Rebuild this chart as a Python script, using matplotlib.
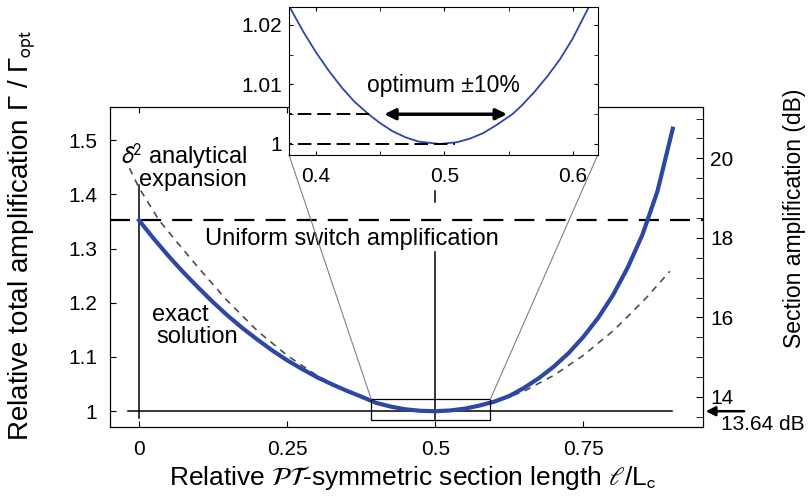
import numpy as np
import matplotlib.pyplot as plt
from matplotlib.patches import Rectangle, ConnectionPatch

plt.rcParams['font.family'] = ['Liberation Sans', 'DejaVu Sans']
plt.rcParams['mathtext.fontset'] = 'stixsans'

# exact solution (blue, thick)
x_exact = [0.0, 0.025, 0.05, 0.075, 0.1, 0.125, 0.15, 0.175, 0.2, 0.225, 0.25, 0.275,
           0.3, 0.325, 0.35, 0.375, 0.4, 0.425, 0.45, 0.475, 0.5, 0.525, 0.55, 0.575,
           0.6, 0.625, 0.65, 0.675, 0.7, 0.725, 0.75, 0.775, 0.8, 0.825, 0.85, 0.875, 0.901]
g_exact = [1.352, 1.318, 1.286, 1.256, 1.228, 1.201, 1.176, 1.153, 1.132, 1.112, 1.094, 1.078,
           1.063, 1.05, 1.038, 1.027, 1.0155, 1.0085, 1.0035, 1.0008, 1.0, 1.0014, 1.0047, 1.0105,
           1.0178, 1.028, 1.043, 1.061, 1.082, 1.107, 1.137, 1.172, 1.214, 1.265, 1.326, 1.405, 1.521]

# delta^2 analytical expansion (grey dashed)
x_expan = [-0.016, 0.0, 0.034, 0.067, 0.1, 0.148, 0.2, 0.25, 0.3, 0.35, 0.4, 0.45, 0.5,
           0.55, 0.6, 0.65, 0.7, 0.75, 0.8, 0.829, 0.857, 0.896]
g_expan = [1.448, 1.412, 1.352, 1.308, 1.265, 1.205, 1.148, 1.103, 1.066, 1.037, 1.016, 1.004, 1.0,
           1.004, 1.016, 1.037, 1.066, 1.103, 1.148, 1.179, 1.21, 1.258]

# inset (zoom around the optimum)
x_zoom = [0.379, 0.39, 0.40, 0.41, 0.42, 0.43, 0.441, 0.45, 0.46, 0.47, 0.48, 0.4965,
          0.51, 0.52, 0.53, 0.54, 0.553, 0.56, 0.57, 0.58, 0.59, 0.60, 0.613]
g_zoom = [1.0232, 1.0189, 1.0154, 1.0123, 1.0095, 1.0071, 1.0050, 1.0035, 1.0021, 1.0011, 1.0004, 1.0,
          1.0003, 1.0009, 1.0018, 1.0031, 1.0050, 1.0064, 1.0087, 1.0113, 1.0142, 1.0177, 1.0232]

g_uniform = 1.352
db_opt = 13.64
x_ticks = [0, 0.25, 0.5, 0.75]
x_labels = ['0', '0.25', '0.5', '0.75']
y_ticks = [1, 1.1, 1.2, 1.3, 1.4, 1.5]
y_labels = ['1', '1.1', '1.2', '1.3', '1.4', '1.5']
db_major = [14, 16, 18, 20]
db_minor = [13.5, 14.5, 15, 15.5, 16.5, 17, 17.5, 18.5, 19, 19.5, 20.5, 21]
zx_ticks = [0.4, 0.5, 0.6]
zx_minor = [0.45, 0.55]
zy_ticks = [1, 1.01, 1.02]
zy_minor = [1.005, 1.015]

box_x = [0.392, 0.593]
box_y = [0.983, 1.022]
blue = '#2c47a6'

fig = plt.figure(figsize=(8.11, 4.99), dpi=100)
ax = fig.add_axes([0.1356, 0.1433, 0.7312, 0.6423])
ax.set_xlim(-0.049, 0.952)
ax.set_ylim(0.970, 1.561)

ax.plot(x_expan, g_expan, color='#4d4d4d', lw=1.2, dashes=(4, 3.5), zorder=3)
ax.plot(x_exact, g_exact, color=blue, lw=3, zorder=4)
ax.axhline(g_uniform, color='k', lw=1.6, dashes=(9, 5), zorder=2)
ax.plot([-0.019, 0.899], [1, 1], color='k', lw=1.1, zorder=2)
ax.plot([0, 0], [0.987, 1.417], color='k', lw=1.1, zorder=2)
ax.plot([0.5, 0.5], [0.985, 1.294], color='k', lw=1.1, zorder=2)
ax.plot([0.5, 0.5], [1.385, 1.407], color='k', lw=1.1, zorder=2)
ax.add_patch(Rectangle((box_x[0], box_y[0]), box_x[1] - box_x[0], box_y[1] - box_y[0],
                       fill=False, lw=0.9, ec='k', zorder=5))

ax.set_xticks(x_ticks)
ax.set_xticklabels(x_labels, fontsize=15)
ax.set_yticks(y_ticks)
ax.set_yticklabels(y_labels, fontsize=15)
ax.tick_params(direction='in', length=4, top=True, right=False, pad=9)

ax2 = ax.twinx()
ax2.set_ylim(db_opt * 0.970, db_opt * 1.561)
ax2.set_yticks(db_major)
ax2.set_yticks(db_minor, minor=True)
ax2.set_yticklabels([str(v) for v in db_major], fontsize=15)
ax2.tick_params(which='both', direction='in', length=5, pad=5)

ax.text(0.182, 1.452, r'$\delta^2$ analytical' + '\nexpansion', fontsize=17, ha='right',
        va='center', multialignment='right', linespacing=0.85)
ax.text(0.36, 1.317, 'Uniform switch amplification', fontsize=17, ha='center', va='center')
ax.text(0.069, 1.177, 'exact', fontsize=17, ha='center', va='center')
ax.text(0.098, 1.137, 'solution', fontsize=17, ha='center', va='center')

ax2.annotate('', xy=(1.0, db_opt), xycoords=('axes fraction', 'data'),
             xytext=(1.074, db_opt), textcoords=('axes fraction', 'data'),
             arrowprops=dict(arrowstyle='-|>', color='k', lw=1.8, mutation_scale=14),
             annotation_clip=False)
ax2.text(1.031, db_opt - 0.34, '13.64 dB', transform=ax2.get_yaxis_transform(),
         fontsize=15, ha='left', va='center')

fig.text(0.028, 0.529, r'Relative total amplification Γ / Γ$_{\rm opt}$', rotation=90,
         fontsize=20, ha='center', va='center')
fig.text(0.980, 0.563, 'Section amplification (dB)', rotation=90,
         fontsize=16.5, ha='center', va='center')
fig.text(0.509, 0.042, r'Relative $\mathcal{PT}$-symmetric section length $\ell$/L$_{\rm c}$',
         fontsize=19, ha='center', va='center')

# inset
axin = fig.add_axes([0.3564, 0.6894, 0.3806, 0.296], zorder=10)
axin.set_xlim(0.379, 0.6195)
axin.set_ylim(0.99815, 1.02297)
axin.plot(x_zoom, g_zoom, color=blue, lw=1.3)
axin.plot([0.379, 0.441], [1.005, 1.005], color='k', lw=1.4,
          dashes=[1.5, 3] + [7, 3] * 8)
axin.plot([0.379, 0.508], [1.0, 1.0], color='k', lw=1.4,
          dashes=[1.5, 3] + [7, 3] * 12)
axin.annotate('', xy=(0.451, 1.005), xytext=(0.551, 1.005),
              arrowprops=dict(arrowstyle='<|-|>', color='k', lw=2.5, mutation_scale=16))
axin.text(0.4992, 1.0099, 'optimum ±10%', fontsize=16.5, ha='center', va='center')
axin.set_xticks(zx_ticks)
axin.set_xticks(zx_minor, minor=True)
axin.set_xticklabels(['0.4', '0.5', '0.6'], fontsize=15)
axin.set_yticks(zy_ticks)
axin.set_yticks(zy_minor, minor=True)
axin.set_yticklabels(['1', '1.01', '1.02'], fontsize=15)
axin.tick_params(which='both', direction='in', length=3, top=True, right=True)
axin.tick_params(axis='x', pad=9)
axin.tick_params(axis='y', pad=5)

for xa, xb in [(box_x[0], 0), (box_x[1], 1)]:
    con = ConnectionPatch(xyA=(xa, box_y[1]), coordsA=ax.transData,
                          xyB=(xb, 0), coordsB=axin.transAxes,
                          color='#808080', lw=0.8)
    fig.add_artist(con)

fig.savefig('out.png', dpi=100)
